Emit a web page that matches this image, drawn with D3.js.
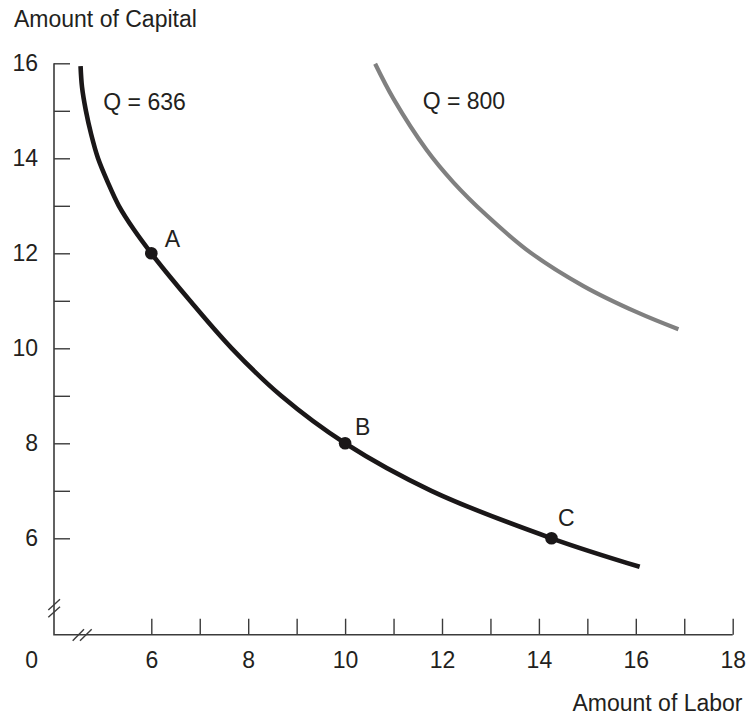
<!DOCTYPE html>
<html>
<head>
<meta charset="utf-8">
<script src="https://cdn.jsdelivr.net/npm/d3@7"></script>
<style>
  body { margin: 0; background: #fff; }
  svg text { font-family: "Liberation Sans", Arial, Helvetica, sans-serif; fill: #231f20; }
</style>
</head>
<body>
<svg id="chart" width="748" height="715"></svg>
<script>
// Isoquant chart: amount of labor vs amount of capital

// axis ticks (every unit gets a tick, only even ones get a label)
const laborTicks = [6, 7, 8, 9, 10, 11, 12, 13, 14, 15, 16, 17, 18];
const capitalTicks = [6, 7, 8, 9, 10, 11, 12, 13, 14, 15, 16];

// Q = 636 isoquant
const q636Labor   = [4.54, 4.57, 4.65, 4.76, 4.90, 5.10, 5.33, 5.64, 6.00, 6.39, 6.80, 7.66, 8.68, 10.0, 11.78, 14.26, 16.08];
const q636Capital = [15.94, 15.5, 15.0, 14.5, 14.0, 13.5, 13.0, 12.5, 12.0, 11.5, 11.0, 10.0, 9.0, 8.0, 7.0, 6.0, 5.40];

// Q = 800 isoquant
const q800Labor   = [10.62, 11.0, 11.68, 12.23, 12.92, 13.82, 14.92, 16.02, 16.88];
const q800Capital = [15.99, 15.25, 14.18, 13.50, 12.80, 12.02, 11.31, 10.76, 10.40];

// labelled input combinations on Q = 636
const pointNames   = ['A', 'B', 'C'];
const pointLabor   = [6, 10, 14.26];
const pointCapital = [12, 8, 6];

// text offsets from each point (px)
const pointLabelDx = [13.5, 10, 6.5];
const pointLabelDy = [-6.5, -8.5, -12.5];

const FONT = 23;
const AXIS_COLOR = '#3b3b3b';

const svg = d3.select('#chart');

const x = d3.scaleLinear().domain([6, 18]).range([151.3, 732.7]);
const y = d3.scaleLinear().domain([6, 16]).range([538.3, 63.3]);

// the axes are broken, so the origin sits off the scales
const originX = 54;
const originY = 634.7;

const evenOnly = d => (d % 2 === 0 ? d : '');

// y axis: ticks point inward (to the right)
svg.append('g')
  .attr('transform', `translate(${originX},0)`)
  .call(d3.axisLeft(y)
    .tickValues(capitalTicks)
    .tickSizeInner(-16)
    .tickSizeOuter(0)
    .tickPadding(16)
    .tickFormat(evenOnly))
  .call(g => g.select('.domain').remove())
  .call(g => g.selectAll('line').attr('stroke', AXIS_COLOR).attr('stroke-width', 1.4))
  .call(g => g.selectAll('text').attr('font-size', FONT).attr('font-family', null).attr('fill', null));

// x axis: ticks point up
svg.append('g')
  .attr('transform', `translate(0,${originY})`)
  .call(d3.axisBottom(x)
    .tickValues(laborTicks)
    .tickSizeInner(-16)
    .tickSizeOuter(0)
    .tickPadding(17)
    .tickFormat(evenOnly))
  .call(g => g.select('.domain').remove())
  .call(g => g.selectAll('line').attr('stroke', AXIS_COLOR).attr('stroke-width', 1.4))
  .call(g => g.selectAll('text').attr('font-size', FONT).attr('font-family', null).attr('fill', null));

// axis lines, running to the broken origin
svg.append('path')
  .attr('d', `M${originX},${y(16)}V${originY}H${x(18)}`)
  .attr('fill', 'none')
  .attr('stroke', AXIS_COLOR)
  .attr('stroke-width', 1.6);

// break marks (two slashes on each axis)
const breaks = [
  [[48.3, 610], [60, 599.3]],
  [[48.3, 617.3], [60, 606.7]],
  [[72.7, 640.7], [84, 629.3]],
  [[80, 640.7], [91.7, 629.3]]
];
svg.selectAll('.brk').data(breaks).enter()
  .append('line')
  .classed('brk', true)
  .attr('x1', d => d[0][0]).attr('y1', d => d[0][1])
  .attr('x2', d => d[1][0]).attr('y2', d => d[1][1])
  .attr('stroke', AXIS_COLOR)
  .attr('stroke-width', 1.4);

// origin label
svg.append('text')
  .attr('x', 31.7)
  .attr('y', 668)
  .attr('text-anchor', 'middle')
  .attr('font-size', FONT)
  .text('0');

// axis titles
svg.append('text')
  .attr('x', 14)
  .attr('y', 27)
  .attr('font-size', FONT)
  .text('Amount of Capital');
svg.append('text')
  .attr('x', 742.5)
  .attr('y', 710.5)
  .attr('text-anchor', 'end')
  .attr('font-size', FONT)
  .text('Amount of Labor');

const line = d3.line()
  .x(d => x(d[0]))
  .y(d => y(d[1]))
  .curve(d3.curveCatmullRom.alpha(0.5));

svg.append('path')
  .datum(d3.zip(q800Labor, q800Capital))
  .attr('d', line)
  .attr('fill', 'none')
  .attr('stroke', '#808080')
  .attr('stroke-width', 4.2);

svg.append('path')
  .datum(d3.zip(q636Labor, q636Capital))
  .attr('d', line)
  .attr('fill', 'none')
  .attr('stroke', '#1a1718')
  .attr('stroke-width', 4.6);

// curve labels
svg.append('text')
  .attr('x', 103.3)
  .attr('y', 110)
  .attr('font-size', FONT)
  .text('Q = 636');
svg.append('text')
  .attr('x', 422.7)
  .attr('y', 109.3)
  .attr('font-size', FONT)
  .text('Q = 800');

// points A, B, C
const pts = svg.selectAll('.pt').data(pointNames).enter()
  .append('g')
  .classed('pt', true)
  .attr('transform', (d, i) => `translate(${x(pointLabor[i])},${y(pointCapital[i])})`);
pts.append('circle')
  .attr('r', 6.3)
  .attr('fill', '#1a1718');
pts.append('text')
  .attr('x', (d, i) => pointLabelDx[i])
  .attr('y', (d, i) => pointLabelDy[i])
  .attr('font-size', FONT)
  .text(d => d);
</script>
</body>
</html>
